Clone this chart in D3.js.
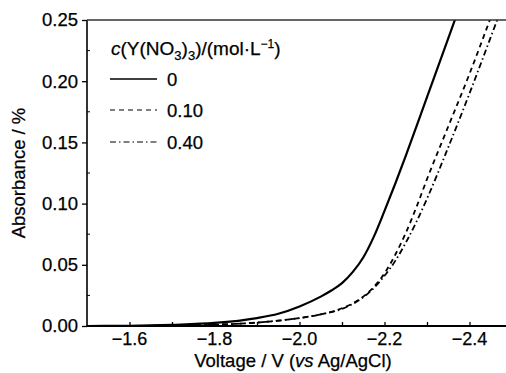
<!DOCTYPE html>
<html>
<head>
<meta charset="utf-8">
<script src="https://cdn.jsdelivr.net/npm/d3@7"></script>
<style>
  html, body { margin: 0; padding: 0; background: #fff; }
  svg { display: block; font-family: "Liberation Sans", Arial, sans-serif; }
  svg text { stroke: #000; stroke-width: 0.25px; }
</style>
</head>
<body>
<div id="chart"></div>
<script>
// voltage (V vs Ag/AgCl) and absorbance (%)
const volt0 = [-1.50, -1.60, -1.70, -1.80, -1.90, -1.95, -2.00, -2.05, -2.075, -2.10, -2.125, -2.15, -2.175, -2.20, -2.225, -2.25, -2.30, -2.35, -2.38];
const abs0  = [0.0000, 0.0002, 0.0010, 0.0025, 0.0065, 0.0100, 0.0160, 0.0240, 0.0290, 0.0350, 0.0440, 0.0560, 0.0730, 0.0940, 0.1160, 0.1390, 0.1870, 0.2350, 0.2640];

const volt10 = [-1.50, -1.70, -1.80, -1.90, -2.00, -2.05, -2.10, -2.15, -2.175, -2.20, -2.225, -2.25, -2.275, -2.30, -2.35, -2.40, -2.45, -2.48];
const abs10  = [0.0000, 0.0003, 0.0010, 0.0028, 0.0065, 0.0095, 0.0145, 0.0240, 0.0320, 0.0430, 0.0580, 0.0760, 0.0970, 0.1200, 0.1630, 0.2060, 0.2520, 0.2800];

const volt40 = [-1.50, -1.70, -1.80, -1.90, -2.00, -2.05, -2.10, -2.15, -2.175, -2.20, -2.225, -2.25, -2.275, -2.30, -2.35, -2.40, -2.45, -2.49];
const abs40  = [0.0000, 0.0003, 0.0010, 0.0028, 0.0065, 0.0095, 0.0140, 0.0235, 0.0310, 0.0410, 0.0530, 0.0680, 0.0850, 0.1040, 0.1460, 0.1900, 0.2360, 0.2730];

const seriesNames = ["0", "0.10", "0.40"];
const xTicks = [-1.6, -1.8, -2.0, -2.2, -2.4];
const xMinor = [-1.6, -1.7, -1.8, -1.9, -2.0, -2.1, -2.2, -2.3, -2.4];
const yTicks = [0, 0.05, 0.10, 0.15, 0.20, 0.25];
const yMinor = [0.025, 0.075, 0.125, 0.175, 0.225];

const width = 506, height = 373;
const mLeft = 87, mTop = 20, mBottom = 326, mRight = 512;

const svg = d3.select("#chart").append("svg")
  .attr("width", width)
  .attr("height", height);

const x = d3.scaleLinear().domain([-1.5, -2.5]).range([mLeft, mRight]);
const y = d3.scaleLinear().domain([0, 0.25]).range([mBottom, mTop]);

//clip
svg.append("defs").append("clipPath").attr("id", "clip")
  .append("rect")
  .attr("x", mLeft).attr("y", mTop)
  .attr("width", width - mLeft).attr("height", mBottom - mTop);

//curves
const series = [
  { v: volt0, a: abs0, dash: null, w: 2.2 },
  { v: volt10, a: abs10, dash: "5,4", w: 1.8 },
  { v: volt40, a: abs40, dash: "6,3,1.5,3", w: 1.8 }
];
const line = d3.line()
  .x(d => x(d[0]))
  .y(d => y(d[1]))
  .curve(d3.curveMonotoneX);

const plot = svg.append("g").attr("clip-path", "url(#clip)");
series.forEach(s => {
  plot.append("path")
    .datum(s.v.map((v, i) => [v, s.a[i]]))
    .attr("d", line)
    .attr("fill", "none")
    .attr("stroke", "#000")
    .attr("stroke-width", s.w)
    .attr("stroke-dasharray", s.dash);
});

//x axis, ticks pointing into the plot
const xAxis = svg.append("g")
  .attr("transform", `translate(0,${mBottom})`)
  .call(d3.axisBottom(x).tickValues(xMinor).tickSize(-4).tickFormat(""));
xAxis.select(".domain").remove();
xAxis.selectAll("line").attr("stroke-width", 1.3);

svg.append("g").selectAll("text")
  .data(xTicks)
  .join("text")
  .attr("x", d => x(d))
  .attr("y", 345)
  .attr("text-anchor", "middle")
  .attr("font-size", 18)
  .text(d => d3.format(".1f")(d));

//y axis, major ticks outward
const yAxis = svg.append("g")
  .attr("transform", `translate(${mLeft},0)`)
  .call(d3.axisLeft(y).tickValues(yTicks).tickSize(5).tickPadding(4).tickFormat(d3.format(".2f")));
yAxis.select(".domain").remove();
yAxis.selectAll("line").attr("stroke-width", 1.3);
yAxis.selectAll("text")
  .attr("font-size", 18.5)
  .attr("font-family", "Liberation Sans, Arial, sans-serif")
  .attr("fill", "#000");

svg.append("g").selectAll("line")
  .data(yMinor)
  .join("line")
  .attr("x1", mLeft).attr("x2", mLeft + 3)
  .attr("y1", d => y(d)).attr("y2", d => y(d))
  .attr("stroke", "#000");

//frame
svg.append("line").attr("x1", mLeft).attr("x2", mLeft).attr("y1", mTop).attr("y2", mBottom + 1)
  .attr("stroke", "#000").attr("stroke-width", 1.6);
svg.append("line").attr("x1", mLeft).attr("x2", width).attr("y1", mBottom).attr("y2", mBottom)
  .attr("stroke", "#000").attr("stroke-width", 2);
svg.append("line").attr("x1", mLeft).attr("x2", width).attr("y1", mTop).attr("y2", mTop)
  .attr("stroke", "#333").attr("stroke-width", 1.3);

//axis titles
svg.append("text")
  .attr("transform", "translate(25,173) rotate(-90)")
  .attr("text-anchor", "middle")
  .attr("font-size", 18.5)
  .text("Absorbance / %");

const xt = svg.append("text")
  .attr("x", 293).attr("y", 367)
  .attr("text-anchor", "middle")
  .attr("font-size", 18.5);
xt.append("tspan").text("Voltage / V (");
xt.append("tspan").attr("font-style", "italic").text("vs");
xt.append("tspan").text(" Ag/AgCl)");

//legend
const lt = svg.append("text")
  .attr("x", 111).attr("y", 55)
  .attr("font-size", 19);
lt.append("tspan").attr("font-style", "italic").text("c");
lt.append("tspan").text("(Y(NO");
lt.append("tspan").attr("font-size", 13).attr("dy", 5).text("3");
lt.append("tspan").attr("dy", -5).text(")");
lt.append("tspan").attr("font-size", 13).attr("dy", 5).text("3");
lt.append("tspan").attr("dy", -5).text(")/(mol·L");
lt.append("tspan").attr("font-size", 12).attr("dy", -7).text("−1");
lt.append("tspan").attr("dy", 7).text(")");

const legY = [79, 110, 142];
series.forEach((s, i) => {
  svg.append("line")
    .attr("x1", 110).attr("x2", 157)
    .attr("y1", legY[i]).attr("y2", legY[i])
    .attr("stroke", "#000")
    .attr("stroke-width", i === 0 ? 1.6 : 1.2)
    .attr("stroke-dasharray", s.dash);
  svg.append("text")
    .attr("x", 167).attr("y", legY[i] + 7)
    .attr("font-size", 18.5)
    .text(seriesNames[i]);
});
</script>
</body>
</html>
